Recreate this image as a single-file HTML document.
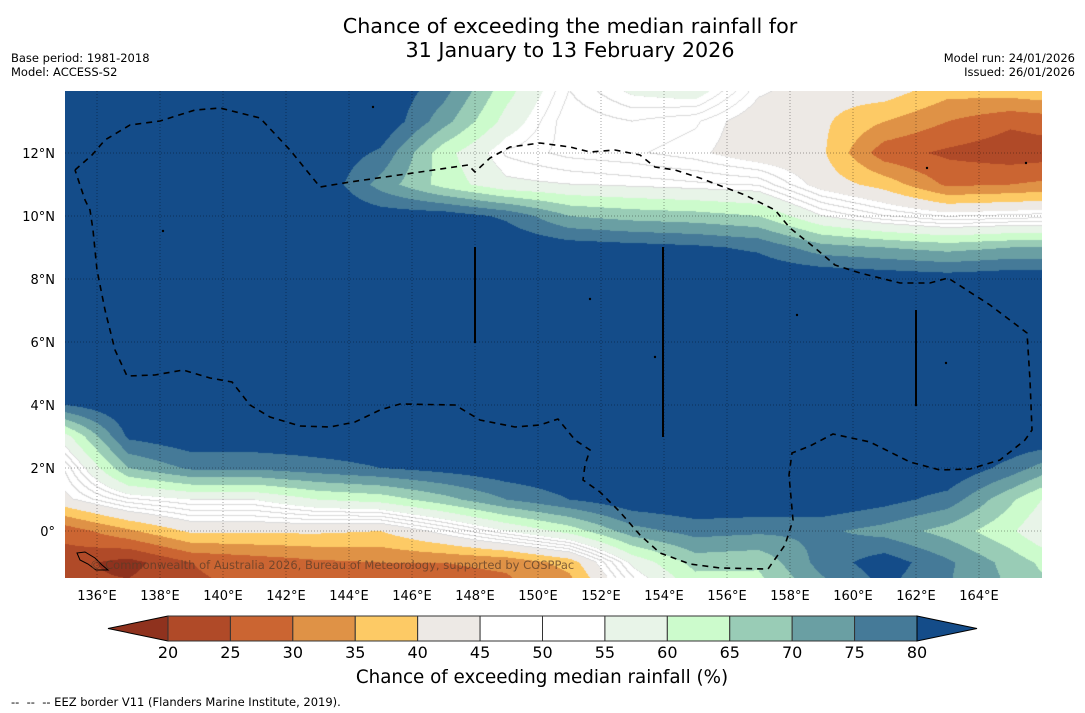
<!DOCTYPE html>
<html><head><meta charset="utf-8"><title>Chance of exceeding median rainfall</title>
<style>
html,body{margin:0;padding:0;background:#fff;}
body{width:1085px;height:713px;position:relative;overflow:hidden;font-family:"DejaVu Sans","Liberation Sans",sans-serif;color:#000;}
.t{position:absolute;white-space:nowrap;}
</style></head>
<body>
<div class="t" style="left:270px;width:600px;top:14px;text-align:center;font-size:20.7px;line-height:24px;">Chance of exceeding the median rainfall for<br>31 January to 13 February 2026</div>
<div class="t" style="left:11px;top:51px;font-size:11.5px;line-height:14px;">Base period: 1981-2018<br>Model: ACCESS-S2</div>
<div class="t" style="right:10px;top:51px;font-size:11.5px;line-height:14px;text-align:right;">Model run: 24/01/2026<br>Issued: 26/01/2026</div>

<canvas id="map" width="977" height="487" style="position:absolute;left:65px;top:91px;"></canvas>
<svg id="ov" width="1085" height="713" style="position:absolute;left:0;top:0;"></svg>

<div class="t" style="left:90px;top:558px;font-size:11.5px;color:rgba(90,60,40,0.75);">© Commonwealth of Australia 2026, Bureau of Meteorology, supported by COSPPac</div>
<div class="t" style="left:342px;width:400px;top:667px;text-align:center;font-size:18.3px;">Chance of exceeding median rainfall (%)</div>
<div class="t" style="left:11px;top:695px;font-size:11.5px;">--&nbsp; --&nbsp; -- EEZ border V11 (Flanders Marine Institute, 2019).</div>

<script>
const lons=[135,137,139,141,143,145,147,149,151,153,155,157,159,161,163,165,167];
const lats=[14,13,12,11,10,9,8,7,6,5,4,3,2,1,0,-1,-2];
const prob=[
[85,85,85,85,85,85,77,62,50,56,58,46,42,43,37,38,40],
[85,85,85,85,85,85,72,58,48,50,48,42,41,35,30,26,28],
[85,85,85,85,85,79,62,52,49,48,46,42,41,27,24,22,23],
[85,85,85,85,85,73,63,56,55,54,53,52,43,38,29,30,32],
[85,85,85,85,85,83,83,79,70,68,67,65,55,50,47,48,49],
[85,85,85,85,85,85,85,85,83,82,81,79,72,70,68,70,70],
[85,85,85,85,85,85,85,85,85,85,85,85,85,84,83,84,84],
[85,85,85,85,85,85,85,85,85,85,85,85,85,85,85,85,85],
[85,85,85,85,85,85,85,85,85,85,85,85,85,85,85,85,85],
[85,85,85,85,85,85,85,85,85,85,85,85,85,85,85,85,85],
[80,85,85,85,85,85,85,85,85,85,85,85,85,85,85,85,85],
[58,81,84,84,84,84,85,85,85,85,85,85,85,85,85,85,85],
[48,70,76,76,78,80,82,84,85,85,85,85,85,85,85,78,68],
[44,52,55,55,60,62,68,75,80,84,85,85,85,82,78,66,54],
[27,34,41,41,41,40,47,55,62,73,77,76,76,73,68,61,50],
[22,18,25,27,29,30,30,31,37,56,67,66,77,83,76,68,60],
[20,22,24,25,26,27,27,28,31,48,60,62,72,80,75,70,64]
];
const levels=[20,25,30,35,40,45,50,55,60,65,70,75,80];
const bandColors=["#8f321e","#b04a28","#cb6532","#df9246","#fdca65","#ede9e5","#ffffff","#ffffff","#e8f4e8","#ccfbcc","#99ccb6","#6a9fa3","#457a98","#144c89"];
const lonTicks=[136,138,140,142,144,146,148,150,152,154,156,158,160,162,164];
const latTicks=[0,2,4,6,8,10,12];
const latTickLabels=["0°","2°N","4°N","6°N","8°N","10°N","12°N"];

const X0=97, PXDEG=31.5, Y0=531;
function xOf(lon){return X0+(lon-136)*PXDEG;}
function yOf(lat){return Y0-lat*PXDEG;}
function lonOf(x){return 136+(x-X0)/PXDEG;}
function latOf(y){return (Y0-y)/PXDEG;}

function sample(lon,lat){
  let fi=(lon-lons[0])/(lons[1]-lons[0]);
  let fj=(lats[0]-lat)/(lats[0]-lats[1]);
  fi=Math.max(0,Math.min(lons.length-1.0001,fi));
  fj=Math.max(0,Math.min(lats.length-1.0001,fj));
  const i=Math.floor(fi),j=Math.floor(fj),a=fi-i,b=fj-j;
  return (prob[j][i]*(1-a)+prob[j][i+1]*a)*(1-b)+(prob[j+1][i]*(1-a)+prob[j+1][i+1]*a)*b;
}
function hex(c){return [parseInt(c.substr(1,2),16),parseInt(c.substr(3,2),16),parseInt(c.substr(5,2),16)];}
const rgb=bandColors.map(hex);
function band(v){let k=0;while(k<levels.length&&v>=levels[k])k++;return k;}

const cv=document.getElementById('map');
const ctx=cv.getContext('2d');
const W=cv.width,H=cv.height;
const img=ctx.createImageData(W,H);
const vals=new Float32Array(W*H);
for(let py=0;py<H;py++){for(let px=0;px<W;px++){vals[py*W+px]=sample(lonOf(px+65.5),latOf(py+91.5));}}
function fine(v){return (v<45||v>55)?-1:Math.floor((v-45)/2.5);}
for(let py=0;py<H;py++){for(let px=0;px<W;px++){
  const v=vals[py*W+px];
  let c=rgb[band(v)];
  const f=fine(v);
  if(f>=0){
    const r=px<W-1?fine(vals[py*W+px+1]):f, d=py<H-1?fine(vals[(py+1)*W+px]):f;
    if(r!==f||d!==f)c=[218,218,218];
  }
  const o=(py*W+px)*4;img.data[o]=c[0];img.data[o+1]=c[1];img.data[o+2]=c[2];img.data[o+3]=255;
}}
ctx.putImageData(img,0,0);

const NS="http://www.w3.org/2000/svg";
const ov=document.getElementById('ov');
function mk(tag,attrs,parent){const e=document.createElementNS(NS,tag);for(const k in attrs)e.setAttribute(k,attrs[k]);(parent||ov).appendChild(e);return e;}
const grid=mk('g',{});


lonTicks.forEach(l=>{
  const ln=mk('line',{x1:xOf(l),x2:xOf(l),y1:91,y2:578,stroke:'rgba(0,0,0,0.35)','stroke-width':1,'stroke-dasharray':'1,2'},grid);
  
  
  const t=mk('text',{x:xOf(l),y:600,'text-anchor':'middle','font-size':13,'font-family':'DejaVu Sans, Liberation Sans, sans-serif'});
  t.textContent=l+'°E';
  
  
});
latTicks.forEach((l,i)=>{
  const ln=mk('line',{x1:65,x2:1042,y1:yOf(l),y2:yOf(l),stroke:'rgba(0,0,0,0.35)','stroke-width':1,'stroke-dasharray':'1,2'},grid);
  
  
  const t=mk('text',{x:55,y:yOf(l)+5,'text-anchor':'end','font-size':13,'font-family':'DejaVu Sans, Liberation Sans, sans-serif'});
  t.textContent=latTickLabels[i];
  
  
});

const eezPx=[[75,170],[92,155],[105,140],[130,125],[160,121],[195,110],[220,108],[260,118],[290,150],[320,187],[350,182],[420,172],[468,165],[475,172],[490,158],[510,147],[540,143],[570,147],[590,152],[615,150],[640,155],[655,167],[675,170],[700,178],[745,195],[775,210],[790,228],[815,248],[835,265],[860,273],[900,283],[930,283],[948,278],[990,305],[1027,333],[1030,380],[1032,430],[1025,440],[1000,460],[970,469],[940,470],[910,462],[890,452],[870,442],[833,434],[810,446],[792,453],[789,475],[793,520],[785,545],[768,569],[720,568],[690,564],[660,553],[640,535],[620,512],[600,492],[583,480],[585,465],[590,450],[575,440],[558,419],[540,425],[515,427],[480,420],[455,405],[400,404],[380,410],[355,422],[330,427],[300,426],[270,417],[250,405],[232,382],[210,378],[183,370],[155,375],[127,376],[115,350],[105,310],[97,270],[93,230],[90,210],[85,200],[75,170]];
const eez=mk('polyline',{points:eezPx.map(p=>p.join(',')).join(' '),fill:'none',stroke:'#000','stroke-width':1.6,'stroke-dasharray':'6,5'});


[[475,247,343],[663,247,437],[916,310,406]].forEach(s=>{
  const l=mk('line',{x1:s[0],x2:s[0],y1:s[1],y2:s[2],stroke:'#000','stroke-width':2});
  
  
});
[[373,107],[163,231],[797,315],[655,357],[946,363],[590,299],[927,168],[1026,163]].forEach(p=>{
  const c=mk('circle',{cx:p[0],cy:p[1],r:1.2,fill:'#000'});
  
  
});
const pal=mk('path',{d:'M77,553 L85,552 L95,558 L102,565 L108,570 L96,570 L88,564 L80,560 Z',fill:'none',stroke:'#000','stroke-width':1});



const cbL=168, cbR=917, cbT=616, cbB=641;
function cbX(v){return cbL+(v-levels[0])/(levels[levels.length-1]-levels[0])*(cbR-cbL);}
const cb=mk('g',{});


const lt=mk('polygon',{points:`108,${(cbT+cbB)/2} ${cbL},${cbT} ${cbL},${cbB}`,fill:bandColors[0],stroke:'#000','stroke-width':1},cb);


for(let k=0;k<levels.length-1;k++){
  const r=mk('rect',{x:cbX(levels[k]),y:cbT,width:cbX(levels[k+1])-cbX(levels[k]),height:cbB-cbT,fill:bandColors[k+1],stroke:'#333','stroke-width':1},cb);
  
  
}
const rt=mk('polygon',{points:`${cbR},${cbT} 977,${(cbT+cbB)/2} ${cbR},${cbB}`,fill:bandColors[bandColors.length-1],stroke:'#000','stroke-width':1},cb);


levels.forEach(v=>{
  const t=mk('text',{x:cbX(v),y:658,'text-anchor':'middle','font-size':16,'font-family':'DejaVu Sans, Liberation Sans, sans-serif'},cb);
  t.textContent=v;
  
  
});
</script>
</body></html>
